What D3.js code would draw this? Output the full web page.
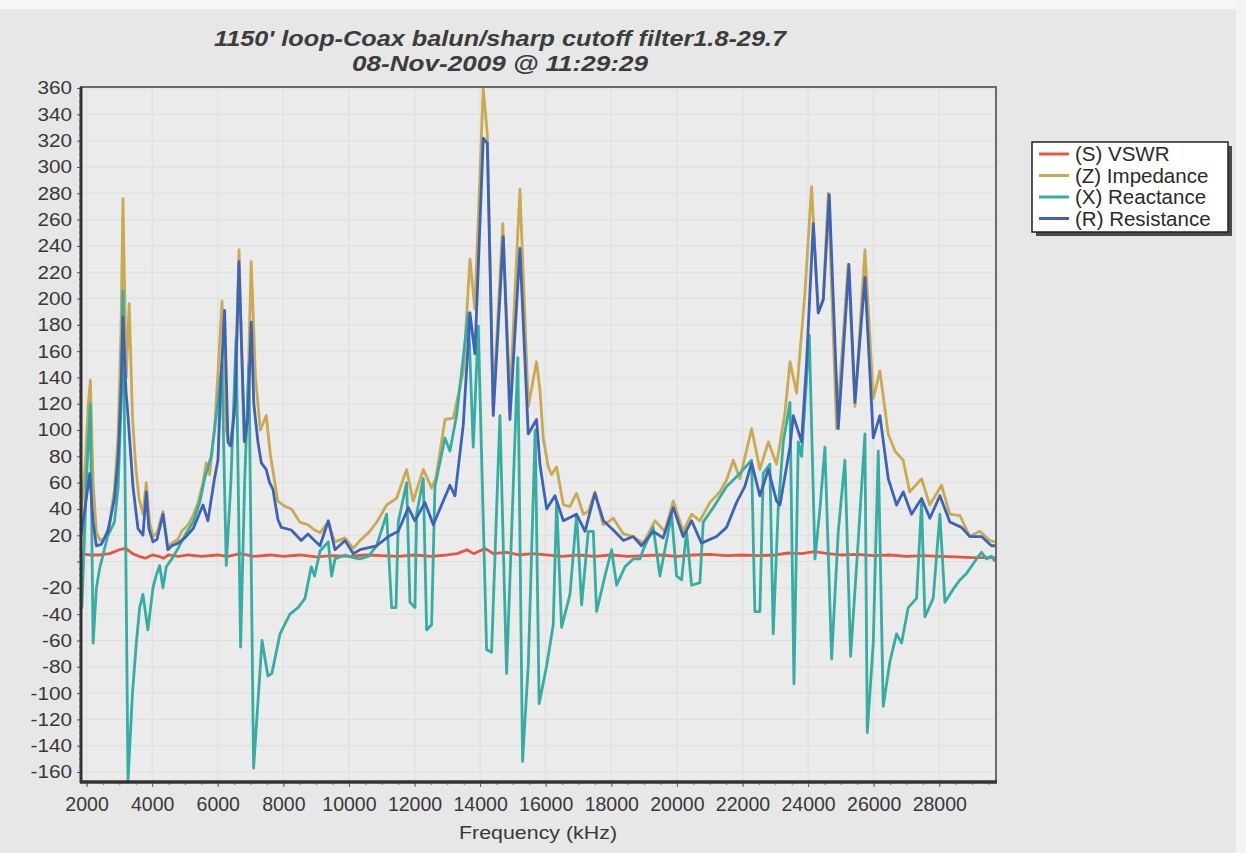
<!DOCTYPE html>
<html>
<head>
<meta charset="utf-8">
<script src="https://cdn.jsdelivr.net/npm/d3@7"></script>
<style>
  body { margin: 0; background: #e7e7e7; }
  text { font-family: "Liberation Sans", Arial, sans-serif; }
</style>
</head>
<body>
<div id="chart"></div>
<script>
// 1: DATA  ([frequency kHz, value])
const vswr = [
  [1800, 6], [2100, 5], [2400, 5], [2700, 6], [3000, 9], [3200, 10], [3400, 6], [3600, 4], [3800, 2.5],
  [4000, 5], [4200, 4], [4350, 2.5], [4500, 5], [4800, 4], [5100, 5], [5500, 4], [6000, 5], [6300, 4],
  [6700, 6], [7100, 4], [7600, 5], [8000, 4], [8500, 5], [9000, 3.5], [9500, 4.5], [10000, 4], [10500, 5],
  [11000, 4.5], [11500, 4], [12000, 5], [12500, 4], [13000, 5], [13300, 6], [13600, 9], [13800, 6],
  [14150, 10], [14400, 6], [14800, 7], [15200, 5], [15600, 6], [16000, 5], [16500, 4], [17000, 5],
  [17500, 4], [18000, 5], [18500, 4], [19000, 4.5], [19500, 5], [20000, 4], [20500, 5], [21000, 5.5],
  [21500, 4.5], [22000, 5], [22500, 4.5], [23000, 5], [23400, 6.5], [23800, 6], [24200, 7.5], [24600, 6],
  [25000, 5], [25500, 5.5], [26000, 4.5], [26500, 5], [27000, 4], [27500, 4.5], [28000, 4], [28500, 3.5],
  [29000, 3], [29700, 3]
];

const impedance = [
  [1800, 25], [1950, 70], [2050, 118], [2115, 138], [2200, 60], [2300, 22], [2420, 16], [2550, 18],
  [2700, 28], [2850, 55], [2960, 95], [3050, 175], [3110, 276], [3210, 140], [3300, 196], [3400, 110],
  [3500, 72], [3600, 48], [3720, 36], [3820, 60], [3920, 30], [4030, 19], [4150, 22], [4330, 38],
  [4480, 11], [4600, 14], [4790, 17], [4900, 23], [5100, 28], [5250, 35], [5400, 45], [5550, 60],
  [5650, 75], [5750, 66], [5900, 100], [6000, 140], [6130, 198], [6260, 100], [6360, 88], [6500, 110],
  [6650, 237], [6800, 92], [6900, 110], [7020, 228], [7150, 140], [7300, 100], [7480, 111], [7600, 82],
  [7830, 46], [8050, 42], [8250, 40], [8500, 30], [8750, 28], [8950, 24], [9120, 22], [9370, 30],
  [9570, 15], [9880, 18], [10130, 10], [10340, 16], [10600, 22], [10850, 30], [11150, 43], [11450, 48],
  [11760, 70], [11960, 46], [12270, 70], [12520, 56], [12650, 63], [12930, 108], [13180, 109],
  [13490, 145], [13690, 230], [13840, 192], [14096, 360], [14220, 325], [14400, 118], [14690, 257],
  [14910, 124], [15214, 283], [15470, 118], [15720, 152], [15825, 130], [15925, 94], [16077, 72],
  [16180, 66], [16330, 72], [16540, 43], [16740, 42], [16940, 52], [17150, 36], [17300, 38], [17500, 53],
  [17750, 28], [17900, 30], [18060, 33], [18370, 21], [18670, 19], [18980, 14], [19330, 31], [19630, 23],
  [19890, 46], [20190, 23], [20450, 36], [20700, 31], [21010, 45], [21310, 53], [21515, 62], [21720, 77],
  [21920, 63], [22280, 101], [22530, 70], [22790, 91], [23040, 74], [23300, 114], [23450, 152],
  [23650, 128], [23900, 203], [24108, 285], [24311, 189], [24464, 200], [24616, 280], [24870, 101],
  [25226, 226], [25430, 118], [25734, 237], [25990, 124], [26190, 145], [26445, 97], [26650, 84],
  [26900, 77], [27100, 53], [27460, 63], [27710, 43], [28070, 58], [28320, 36], [28630, 35], [28930, 19],
  [29240, 23], [29540, 16], [29700, 15]
];

const reactance = [
  [1800, 10], [1860, -35], [1990, 60], [2115, 120], [2200, -62], [2300, -20], [2400, -5], [2500, 5],
  [2650, 20], [2850, 30], [2960, 56], [3050, 117], [3111, 206], [3180, 50], [3264, -167], [3400, -100],
  [3517, -62], [3620, -35], [3720, -25], [3870, -52], [4025, -20], [4130, -10], [4228, -3], [4330, -20],
  [4431, -4], [4600, 2], [4790, 10], [5000, 20], [5250, 30], [5450, 45], [5600, 63], [5800, 80],
  [6000, 120], [6128, 150], [6260, -3], [6400, 60], [6560, 170], [6697, -65], [6820, 60], [6950, 150],
  [7093, -157], [7350, -60], [7530, -87], [7650, -85], [7900, -55], [8200, -40], [8450, -35], [8660, -28],
  [8851, -4], [8953, -11], [9120, 8], [9370, 15], [9473, -11], [9575, 2], [9880, 5], [10134, 3],
  [10337, 2], [10591, 4], [10845, 12], [11150, 36], [11302, -35], [11434, -35], [11505, 30], [11759, 60],
  [11861, -31], [12013, -35], [12064, 36], [12267, 63], [12369, -52], [12521, -48], [12623, 57],
  [12928, 94], [13080, 84], [13283, 111], [13640, 189], [13791, 87], [13944, 179], [14198, -67],
  [14350, -69], [14604, 111], [14807, -85], [15150, 155], [15295, -152], [15470, -78], [15680, 100],
  [15800, -108], [16030, -79], [16230, -48], [16333, 46], [16485, -50], [16740, -25], [16943, 36],
  [17095, -33], [17298, 23], [17451, 23], [17552, -38], [17806, -11], [18009, 9], [18162, -18],
  [18416, -4], [18670, 2], [18873, 2], [18975, 9], [19279, 26], [19483, -11], [19838, 36], [19991, -11],
  [20143, -14], [20295, 23], [20448, -18], [20702, -16], [20803, 30], [21108, 41], [21515, 57],
  [21921, 67], [22277, 77], [22378, -38], [22531, -38], [22632, 67], [22835, 74], [22937, -55],
  [23089, 40], [23244, 91], [23448, 121], [23570, -93], [23702, 91], [23803, 80], [24037, 172],
  [24210, 2], [24362, 40], [24514, 87], [24718, -74], [24921, 23], [25124, 77], [25297, -72],
  [25530, 16], [25734, 97], [25805, -130], [25988, -62], [26140, 84], [26292, -110], [26496, -76],
  [26699, -55], [26851, -62], [27054, -35], [27308, -28], [27461, 45], [27562, -42], [27816, -28],
  [28020, 36], [28172, -31], [28426, -21], [28629, -14], [28832, -9], [29137, 2], [29289, 7],
  [29442, 2], [29594, 4], [29700, 0]
];

const resistance = [
  [1800, 15], [1950, 40], [2095, 67], [2200, 30], [2300, 12], [2450, 13], [2650, 23], [2850, 48],
  [2960, 78], [3050, 130], [3111, 186], [3200, 130], [3263, 111], [3415, 57], [3568, 25], [3720, 20],
  [3822, 53], [3900, 25], [4025, 15], [4150, 17], [4330, 36], [4480, 9], [4600, 12], [4790, 14],
  [5000, 18], [5250, 25], [5550, 43], [5700, 31], [5900, 63], [6006, 77], [6100, 140], [6209, 191],
  [6311, 91], [6400, 88], [6530, 120], [6646, 228], [6819, 91], [6920, 110], [7022, 182], [7100, 120],
  [7225, 91], [7330, 75], [7479, 70], [7580, 60], [7683, 55], [7835, 32], [7937, 26], [8241, 24],
  [8546, 16], [8751, 21], [8950, 16], [9118, 12], [9372, 31], [9575, 9], [9880, 16], [10134, 6],
  [10337, 9], [10845, 12], [11200, 19], [11505, 23], [11810, 41], [12013, 31], [12318, 45], [12572, 28],
  [13080, 58], [13233, 50], [13487, 104], [13690, 189], [13842, 158], [14096, 322], [14220, 318],
  [14401, 111], [14706, 247], [14909, 108], [15214, 238], [15468, 97], [15722, 108], [15825, 74],
  [15925, 57], [16030, 40], [16282, 50], [16540, 31], [16940, 36], [17200, 23], [17500, 52], [17760, 31],
  [18060, 24], [18370, 16], [18670, 19], [18920, 12], [19280, 23], [19580, 18], [19890, 41], [20190, 19],
  [20450, 31], [20750, 14], [21210, 19], [21515, 26], [21820, 45], [22070, 57], [22280, 75], [22530, 50],
  [22790, 70], [23040, 46], [23143, 43], [23448, 87], [23549, 111], [23803, 91], [23956, 152],
  [24159, 257], [24311, 189], [24464, 199], [24646, 279], [24921, 101], [25246, 226], [25429, 121],
  [25734, 216], [25988, 94], [26191, 111], [26445, 63], [26699, 43], [26902, 53], [27156, 36],
  [27461, 48], [27715, 33], [28020, 50], [28324, 30], [28680, 26], [28934, 19], [29289, 19],
  [29594, 12], [29700, 12]
];

const seriesNames = ["(S) VSWR", "(Z) Impedance", "(X) Reactance", "(R) Resistance"];
const seriesColors = ["#e8553f", "#c9aa52", "#35ada2", "#3d63b6"];
const xTicks = [2000, 4000, 6000, 8000, 10000, 12000, 14000, 16000, 18000, 20000, 22000, 24000, 26000, 28000];
const yTicks = [-160, -140, -120, -100, -80, -60, -40, -20, 0, 20, 40, 60, 80, 100, 120, 140, 160, 180,
  200, 220, 240, 260, 280, 300, 320, 340, 360];
const titleLines = ["1150' loop-Coax balun/sharp cutoff filter1.8-29.7", "08-Nov-2009 @ 11:29:29"];
const xTitle = "Frequency (kHz)";

// 2: SVG + PLOT AREA
const W = 1246, H = 853;
const plot = { left: 81, top: 87, right: 996, bottom: 782 };

const svg = d3.select("#chart")
  .append("svg")
  .attr("width", W)
  .attr("height", H);

svg.append("rect").attr("width", W).attr("height", H).attr("fill", "#e7e7e7");
// scanned-page light edges
svg.append("rect").attr("width", W).attr("height", 9).attr("fill", "#f6f6f6");
svg.append("rect").attr("x", 1236).attr("width", 10).attr("height", H).attr("fill", "#f3f3f3");

svg.append("rect")
  .attr("x", plot.left).attr("y", plot.top)
  .attr("width", plot.right - plot.left).attr("height", plot.bottom - plot.top)
  .attr("fill", "#ebebeb");

const x = d3.scaleLinear().domain([1800, 29700]).range([plot.left - 1, plot.right - 1]);
const y = d3.scaleLinear().domain([-167.6, 360.8]).range([plot.bottom, plot.top]);

// faint grid
svg.append("g").selectAll("line").data(xTicks).join("line")
  .attr("x1", d => x(d)).attr("x2", d => x(d))
  .attr("y1", plot.top).attr("y2", plot.bottom)
  .attr("stroke", "#dcdcdc").attr("stroke-width", 1);
svg.append("g").selectAll("line").data(yTicks).join("line")
  .attr("x1", plot.left).attr("x2", plot.right)
  .attr("y1", d => y(d)).attr("y2", d => y(d))
  .attr("stroke", "#dedede").attr("stroke-width", 1);

// 3: LINES
const line = d3.line()
  .x(d => x(d[0]))
  .y(d => y(d[1]));

svg.append("clipPath").attr("id", "clip")
  .append("rect")
  .attr("x", plot.left).attr("y", plot.top - 2)
  .attr("width", plot.right - plot.left).attr("height", plot.bottom - plot.top + 2);

const lineGroup = svg.append("g").attr("clip-path", "url(#clip)");
[vswr, impedance, reactance, resistance].forEach((data, i) => {
  lineGroup.append("path")
    .datum(data)
    .attr("fill", "none")
    .attr("stroke", seriesColors[i])
    .attr("stroke-width", 2.8)
    .attr("stroke-linejoin", "round")
    .attr("d", line);
});

// 4: FRAME + AXES
svg.append("rect")
  .attr("x", plot.left).attr("y", plot.top)
  .attr("width", plot.right - plot.left).attr("height", plot.bottom - plot.top)
  .attr("fill", "none").attr("stroke", "#6a6a6a").attr("stroke-width", 2);

const yAxis = svg.append("g")
  .attr("transform", `translate(${plot.left},0)`)
  .call(d3.axisLeft(y).tickValues(yTicks).tickSize(4).tickPadding(4)
    .tickFormat(d => d === 0 ? "" : d));
yAxis.select(".domain").remove();
yAxis.selectAll("line").attr("stroke", "#555");
yAxis.selectAll("text")
  .style("font-size", "18.5px")
  .attr("fill", "#383838")
  .attr("transform", "scale(1.12,1)");

// minor ticks on y
svg.append("g")
  .attr("transform", `translate(${plot.left},0)`)
  .call(d3.axisLeft(y).tickValues(d3.range(-160, 361, 5)).tickSize(2).tickFormat(""))
  .call(g => g.select(".domain").remove())
  .selectAll("line").attr("stroke", "#666");

const xAxis = svg.append("g")
  .attr("transform", `translate(0,${plot.bottom})`)
  .call(d3.axisBottom(x).tickValues(xTicks).tickSize(5).tickPadding(10).tickFormat(d => d));
xAxis.select(".domain").remove();
xAxis.selectAll("line").attr("stroke", "#555");
xAxis.selectAll("text")
  .style("font-size", "19.5px")
  .attr("fill", "#383838");

svg.append("g")
  .attr("transform", `translate(0,${plot.bottom})`)
  .call(d3.axisBottom(x).tickValues(d3.range(2000, 29701, 500)).tickSize(3).tickFormat(""))
  .call(g => g.select(".domain").remove())
  .selectAll("line").attr("stroke", "#777");

// heavy left and bottom axis lines
svg.append("line")
  .attr("x1", plot.left).attr("x2", plot.left)
  .attr("y1", plot.top).attr("y2", plot.bottom + 1)
  .attr("stroke", "#333").attr("stroke-width", 3);
svg.append("line")
  .attr("x1", plot.left - 1).attr("x2", plot.right + 1)
  .attr("y1", plot.bottom).attr("y2", plot.bottom)
  .attr("stroke", "#333").attr("stroke-width", 3.5);

// 5: TITLES (scan is a bit stretched sideways, so fit the measured widths)
const titleWidths = [572, 296];
svg.selectAll(".title").data(titleLines).join("text")
  .attr("class", "title")
  .attr("x", 500)
  .attr("y", (d, i) => 46 + i * 25)
  .attr("text-anchor", "middle")
  .attr("textLength", (d, i) => titleWidths[i])
  .attr("lengthAdjust", "spacingAndGlyphs")
  .style("font-size", "22px")
  .style("font-weight", "bold")
  .style("font-style", "italic")
  .attr("fill", "#3c3c3c")
  .text(d => d);

svg.append("text")
  .attr("x", 538)
  .attr("y", 839)
  .attr("text-anchor", "middle")
  .attr("textLength", 158)
  .attr("lengthAdjust", "spacingAndGlyphs")
  .style("font-size", "19px")
  .attr("fill", "#383838")
  .text(xTitle);

// 6: LEGEND
const legend = svg.append("g").attr("transform", "translate(1032,142)");
legend.append("rect")
  .attr("x", 4).attr("y", 4).attr("width", 196).attr("height", 90)
  .attr("fill", "#4a4a4a");
legend.append("rect")
  .attr("width", 196).attr("height", 90)
  .attr("fill", "#ffffff").attr("stroke", "#222").attr("stroke-width", 1.5);

seriesNames.forEach((name, i) => {
  const item = legend.append("g").attr("transform", `translate(0, ${12 + i * 21.5})`);
  item.append("line")
    .attr("x1", 7).attr("x2", 37)
    .attr("stroke", seriesColors[i])
    .attr("stroke-width", 3);
  item.append("text")
    .attr("x", 43)
    .attr("dy", "0.36em")
    .style("font-size", "20.5px")
    .attr("fill", "#2a2a2a")
    .text(name);
});
</script>
</body>
</html>
